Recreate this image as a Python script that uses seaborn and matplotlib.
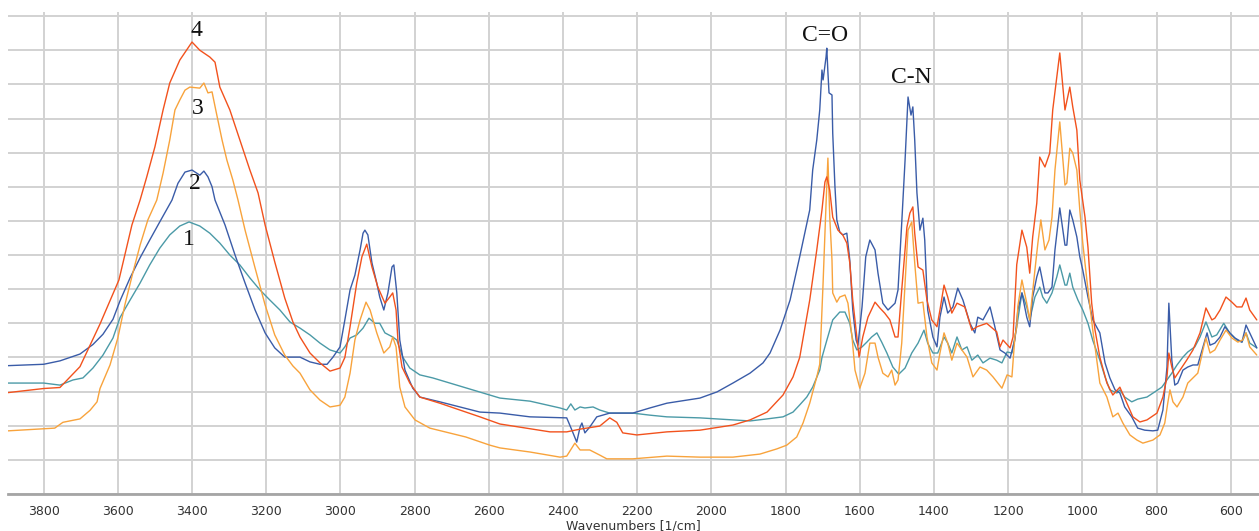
import matplotlib
matplotlib.use("Agg")
import matplotlib.pyplot as plt
from matplotlib.ticker import MultipleLocator
import numpy as np
import pandas as pd
import seaborn as sns

# ---- FTIR spectra (wavenumber in 1/cm, intensity in arbitrary units) ----
wn_1 = [3896, 3800, 3756, 3721, 3694, 3667, 3640, 3613, 3594, 3567, 3540, 3514, 3487, 3460,
        3433, 3408, 3379, 3352, 3325, 3298, 3271, 3244, 3217, 3190, 3163, 3136, 3109, 3082,
        3055, 3028, 3001, 2988, 2974, 2956, 2939, 2923, 2907, 2894, 2880, 2859, 2848, 2832,
        2813, 2786, 2751, 2705, 2659, 2616, 2570, 2489, 2408, 2390, 2379, 2368, 2354, 2341,
        2319, 2301, 2274, 2212, 2166, 2120, 2031, 1942, 1896, 1850, 1807, 1780, 1762, 1743,
        1727, 1708, 1702, 1689, 1673, 1654, 1640, 1627, 1619, 1608, 1594, 1581, 1568, 1554,
        1541, 1527, 1511, 1495, 1478, 1460, 1443, 1427, 1417, 1403, 1390, 1373, 1363, 1352,
        1338, 1325, 1311, 1298, 1282, 1268, 1249, 1231, 1217, 1203, 1190, 1177, 1163, 1150,
        1142, 1128, 1115, 1107, 1096, 1082, 1069, 1061, 1047, 1042, 1034, 1026, 1012, 999,
        985, 972, 953, 939, 926, 907, 899, 886, 867, 851, 826, 805, 786, 772, 759, 745, 729,
        716, 697, 683, 667, 651, 638, 619, 603, 584, 570, 559, 549, 530]
ab_1 = [3.25, 3.25, 3.19, 3.34, 3.40, 3.69, 4.07, 4.57, 5.17, 5.68, 6.18, 6.71, 7.20, 7.59,
        7.85, 7.97, 7.85, 7.64, 7.35, 7.00, 6.71, 6.33, 5.98, 5.68, 5.39, 5.04, 4.86, 4.66,
        4.42, 4.22, 4.13, 4.31, 4.57, 4.66, 4.86, 5.15, 5.00, 5.00, 4.72, 4.60, 4.51, 4.01,
        3.69, 3.49, 3.40, 3.25, 3.10, 2.96, 2.81, 2.72, 2.52, 2.46, 2.64, 2.46, 2.55, 2.52,
        2.55, 2.46, 2.37, 2.37, 2.31, 2.26, 2.23, 2.17, 2.14, 2.20, 2.26, 2.40, 2.61, 2.84,
        3.13, 3.63, 4.00, 4.50, 5.10, 5.33, 5.33, 5.00, 4.51, 4.22, 4.31, 4.45, 4.60, 4.72,
        4.45, 4.13, 3.72, 3.51, 3.69, 4.13, 4.42, 4.80, 4.42, 4.13, 4.13, 4.60, 4.42, 4.13,
        4.60, 4.22, 4.31, 3.92, 4.07, 3.84, 3.98, 3.92, 3.84, 4.16, 4.13, 4.90, 5.89, 5.48,
        5.10, 5.77, 6.06, 5.77, 5.59, 5.89, 6.36, 6.71, 6.12, 6.12, 6.47, 6.06, 5.68, 5.39,
        5.00, 4.50, 3.92, 3.43, 3.05, 2.96, 3.05, 2.84, 2.70, 2.78, 2.84, 2.99, 3.13, 3.34,
        3.54, 3.78, 4.01, 4.16, 4.31, 4.60, 5.04, 4.60, 4.66, 5.00, 4.72, 4.51, 4.45, 4.72,
        4.42, 4.28]

wn_2 = [3896, 3800, 3756, 3702, 3667, 3640, 3613, 3594, 3567, 3540, 3514, 3487, 3454, 3438,
        3419, 3400, 3379, 3368, 3357, 3346, 3338, 3311, 3284, 3257, 3230, 3203, 3177, 3150,
        3109, 3082, 3055, 3036, 3020, 3001, 2988, 2974, 2961, 2947, 2939, 2934, 2926, 2915,
        2902, 2894, 2883, 2872, 2861, 2856, 2848, 2840, 2826, 2805, 2786, 2732, 2678, 2624,
        2570, 2489, 2390, 2376, 2363, 2354, 2349, 2341, 2328, 2309, 2274, 2212, 2166, 2120,
        2031, 1985, 1942, 1896, 1861, 1842, 1815, 1788, 1762, 1735, 1727, 1716, 1708, 1702,
        1699, 1691, 1689, 1686, 1683, 1675, 1673, 1667, 1662, 1654, 1646, 1635, 1627, 1619,
        1610, 1605, 1594, 1584, 1573, 1559, 1551, 1538, 1524, 1505, 1497, 1487, 1478, 1473,
        1470, 1462, 1457, 1452, 1446, 1438, 1430, 1425, 1417, 1403, 1392, 1384, 1373, 1363,
        1349, 1336, 1322, 1303, 1290, 1282, 1268, 1249, 1236, 1222, 1209, 1195, 1182, 1174,
        1163, 1150, 1142, 1134, 1123, 1115, 1101, 1093, 1082, 1074, 1061, 1047, 1042, 1034,
        1026, 1015, 1007, 999, 985, 972, 953, 939, 926, 912, 899, 886, 867, 851, 832, 810,
        797, 783, 772, 767, 759, 751, 743, 729, 716, 702, 689, 675, 664, 656, 643, 629, 616,
        603, 589, 570, 559, 549, 530]
ab_2 = [3.76, 3.80, 3.90, 4.10, 4.38, 4.68, 5.12, 5.66, 6.33, 6.92, 7.44, 7.97, 8.61, 9.10,
        9.43, 9.49, 9.34, 9.46, 9.29, 9.00, 8.61, 7.88, 7.00, 6.18, 5.39, 4.72, 4.28, 4.01,
        4.01, 3.87, 3.80, 3.80, 4.01, 4.31, 5.10, 5.98, 6.41, 7.15, 7.64, 7.73, 7.59, 6.77,
        6.18, 5.77, 5.39, 5.89, 6.65, 6.71, 5.89, 4.51, 3.63, 3.10, 2.84, 2.70, 2.55, 2.40,
        2.37, 2.26, 2.23, 1.87, 1.52, 1.96, 2.08, 1.79, 1.96, 2.26, 2.37, 2.37, 2.52, 2.66,
        2.81, 2.99, 3.25, 3.54, 3.84, 4.13, 4.80, 5.68, 6.95, 8.32, 9.49, 10.37, 11.25, 12.42,
        12.13, 12.80, 13.06, 12.36, 11.75, 11.69, 10.57, 9.00, 8.03, 7.67, 7.59, 7.64, 6.85, 5.39,
        4.51, 4.36, 5.48, 6.95, 7.44, 7.15, 6.47, 5.59, 5.39, 5.59, 5.98, 7.94, 9.78, 10.95,
        11.63, 11.10, 11.34, 10.37, 8.82, 7.73, 8.08, 7.44, 5.39, 4.60, 4.31, 5.18, 5.77, 5.30,
        5.48, 6.03, 5.68, 5.00, 4.72, 5.18, 5.10, 5.48, 4.90, 4.22, 4.13, 3.98, 4.51, 5.39,
        5.89, 5.18, 4.90, 5.77, 6.36, 6.65, 5.89, 5.89, 6.06, 7.15, 8.38, 7.29, 7.29, 8.32,
        8.03, 7.53, 6.95, 6.56, 5.77, 5.10, 4.72, 3.84, 3.40, 3.05, 2.96, 2.55, 2.26, 1.93, 1.87, 1.85,
        1.87, 2.46, 3.72, 5.59, 3.92, 3.19, 3.25, 3.63, 3.72, 3.78, 3.78, 4.31, 4.72, 4.36, 4.42, 4.60, 4.90,
        4.72, 4.57, 4.45, 4.95, 4.72, 4.28]

wn_3 = [3896, 3770, 3748, 3702, 3675, 3656, 3648, 3621, 3600, 3581, 3559, 3540, 3519, 3495,
        3478, 3460, 3446, 3433, 3419, 3406, 3379, 3368, 3357, 3346, 3336, 3319, 3306, 3290,
        3276, 3257, 3230, 3203, 3177, 3150, 3128, 3109, 3082, 3055, 3028, 3001, 2988, 2974,
        2961, 2947, 2931, 2920, 2902, 2883, 2867, 2859, 2850, 2840, 2826, 2799, 2759, 2718,
        2662, 2597, 2570, 2489, 2408, 2390, 2368, 2354, 2328, 2301, 2282, 2212, 2120, 2031,
        1942, 1869, 1824, 1797, 1770, 1753, 1735, 1716, 1708, 1699, 1691, 1686, 1681, 1675,
        1673, 1662, 1654, 1640, 1632, 1621, 1613, 1600, 1586, 1573, 1559, 1551, 1538, 1524,
        1514, 1505, 1497, 1487, 1478, 1470, 1460, 1452, 1443, 1430, 1419, 1406, 1392, 1384,
        1373, 1363, 1352, 1338, 1325, 1311, 1295, 1276, 1258, 1241, 1217, 1203, 1190, 1182,
        1177, 1174, 1163, 1150, 1142, 1128, 1120, 1112, 1101, 1090, 1082, 1074, 1061, 1047,
        1042, 1034, 1026, 1015, 1007, 999, 985, 972, 953, 934, 918, 904, 891, 872, 853, 837,
        810, 791, 778, 770, 764, 756, 745, 729, 716, 702, 689, 675, 667, 656, 643, 629, 613,
        597, 581, 568, 559, 549, 530]
ab_3 = [1.85, 1.93, 2.10, 2.20, 2.45, 2.70, 3.09, 3.78, 4.57, 5.54, 6.50, 7.29, 8.03, 8.61,
        9.40, 10.37, 11.25, 11.54, 11.83, 11.92, 11.89, 12.04, 11.75, 11.78, 11.25, 10.37, 9.78, 9.20,
        8.61, 7.73, 6.62, 5.54, 4.66, 4.07, 3.75, 3.54, 3.05, 2.75, 2.55, 2.60, 2.84, 3.54,
        4.51, 5.10, 5.62, 5.39, 4.72, 4.13, 4.31, 4.60, 4.31, 3.13, 2.55, 2.17, 1.93, 1.82,
        1.67, 1.43, 1.35, 1.23, 1.08, 1.11, 1.49, 1.29, 1.29, 1.14, 1.03, 1.03, 1.11, 1.08,
        1.08, 1.17, 1.32, 1.43, 1.67, 2.08, 2.66, 3.43, 3.80, 6.18, 8.50, 9.84, 8.11, 6.85,
        5.89, 5.62, 5.77, 5.83, 5.59, 4.60, 3.63, 3.10, 3.54, 4.42, 4.42, 4.01, 3.54, 3.43,
        3.63, 3.19, 3.34, 4.42, 6.18, 7.73, 7.97, 6.77, 5.59, 5.62, 4.60, 3.84, 3.63, 4.13,
        4.72, 4.42, 3.92, 4.42, 4.22, 4.01, 3.43, 3.72, 3.63, 3.43, 3.10, 3.49, 3.43, 4.60,
        4.90, 5.50, 6.27, 5.59, 5.10, 6.56, 7.35, 8.03, 7.15, 7.44, 8.11, 9.49, 10.90, 9.05,
        9.11, 10.13, 9.99, 9.49, 8.32, 7.35, 5.98, 4.80, 3.25, 2.84, 2.26, 2.37, 2.08, 1.73, 1.58, 1.49,
        1.58, 1.73, 2.08, 2.66, 3.05, 2.70, 2.55, 2.84, 3.25, 3.40, 3.54, 4.22, 4.57, 4.13, 4.22, 4.51, 4.80,
        4.57, 4.45, 4.51, 4.72, 4.31, 4.07]

wn_4 = [3896, 3800, 3756, 3702, 3648, 3597, 3581, 3562, 3540, 3522, 3500, 3478, 3460, 3433,
        3400, 3379, 3352, 3338, 3325, 3298, 3271, 3244, 3222, 3203, 3177, 3150, 3128, 3109,
        3082, 3055, 3028, 3001, 2988, 2974, 2956, 2942, 2929, 2915, 2899, 2880, 2867, 2859,
        2850, 2845, 2834, 2813, 2786, 2732, 2678, 2624, 2570, 2435, 2390, 2354, 2301, 2274,
        2255, 2239, 2201, 2120, 2031, 1942, 1896, 1850, 1807, 1780, 1762, 1735, 1716, 1702,
        1694, 1689, 1681, 1673, 1659, 1646, 1635, 1627, 1619, 1608, 1602, 1592, 1578, 1559,
        1546, 1533, 1519, 1505, 1497, 1487, 1473, 1465, 1457, 1452, 1443, 1430, 1419, 1406,
        1392, 1384, 1373, 1363, 1352, 1338, 1317, 1298, 1284, 1258, 1231, 1222, 1214, 1195,
        1187, 1177, 1163, 1150, 1142, 1134, 1123, 1115, 1101, 1088, 1080, 1069, 1061, 1047,
        1034, 1026, 1015, 1007, 993, 985, 975, 966, 953, 934, 918, 899, 880, 864, 845, 826,
        799, 783, 772, 767, 759, 751, 737, 719, 702, 683, 667, 651, 643, 629, 613, 597, 584,
        570, 559, 549, 530]
ab_4 = [2.97, 3.09, 3.12, 3.73, 4.98, 6.27, 7.00, 7.88, 8.61, 9.29, 10.17, 11.25, 12.04, 12.71,
        13.24, 13.00, 12.80, 12.65, 11.92, 11.25, 10.37, 9.49, 8.82, 7.88, 6.80, 5.74, 5.04, 4.60,
        4.13, 3.84, 3.60, 3.69, 4.00, 4.90, 6.18, 6.95, 7.32, 6.65, 6.06, 5.59, 5.77, 5.89,
        5.39, 4.51, 3.72, 3.25, 2.84, 2.66, 2.46, 2.26, 2.05, 1.82, 1.82, 1.90, 1.99, 2.23,
        2.10, 1.79, 1.73, 1.82, 1.87, 2.02, 2.17, 2.40, 2.90, 3.43, 4.00, 5.68, 7.15, 8.32,
        9.14, 9.29, 8.90, 8.11, 7.73, 7.59, 7.35, 6.77, 5.68, 4.60, 4.01, 4.60, 5.18, 5.62,
        5.45, 5.30, 5.10, 4.60, 4.60, 5.98, 7.82, 8.23, 8.41, 7.64, 6.65, 6.56, 5.68, 5.10,
        4.90, 5.39, 6.12, 5.77, 5.30, 5.59, 5.48, 4.80, 4.90, 5.00, 4.75, 4.31, 4.51, 4.28,
        4.60, 6.72, 7.73, 7.23, 6.47, 7.53, 8.52, 9.87, 9.58, 9.99, 11.25, 12.21, 12.92, 11.25,
        11.92, 11.34, 10.66, 9.20, 8.11, 7.23, 5.59, 4.80, 4.01, 3.25, 2.90, 3.13, 2.66, 2.26, 2.11, 2.17,
        2.37, 2.84, 3.43, 4.13, 3.72, 3.40, 3.63, 3.92, 4.22, 4.72, 5.45, 5.10, 5.15, 5.39, 5.77, 5.62, 5.48,
        5.48, 5.74, 5.39, 5.10]

samples = ["1", "2", "3", "4"]
colors = ["#4b9aa7", "#3a5ca8", "#f8a33c", "#f2521d"]

frames = []
for name, wn, ab in zip(samples, [wn_1, wn_2, wn_3, wn_4], [ab_1, ab_2, ab_3, ab_4]):
    frames.append(pd.DataFrame({"wn": wn, "ab": ab, "sample": name,
                                "idx": np.arange(len(wn))}))
df = pd.concat(frames, ignore_index=True)

sns.set_style("white")
plt.rcParams["font.family"] = ["DejaVu Sans"]

fig = plt.figure(figsize=(12.59, 5.31), dpi=100)
ax = fig.add_axes([8 / 1259, 37 / 531, 1251 / 1259, 482 / 531])

sns.lineplot(data=df, x="wn", y="ab", hue="sample", units="idx" if False else None,
             palette=dict(zip(samples, colors)), sort=False, estimator=None,
             legend=False, linewidth=1.0, ax=ax)

ax.set_xlim(3896, 524)
ax.set_ylim(0, 14.12)

ax.xaxis.set_major_locator(MultipleLocator(200))
ax.xaxis.set_minor_locator(MultipleLocator(50))
ax.yaxis.set_major_locator(MultipleLocator(1))
ax.grid(True, which="major", color="#d2d2d2", linewidth=1.4)
ax.set_axisbelow(True)

for side in ["left", "right", "top"]:
    ax.spines[side].set_visible(False)
ax.spines["bottom"].set_color("#a5a5a5")
ax.spines["bottom"].set_linewidth(2.0)

ax.tick_params(axis="x", which="both", direction="out", colors="#a5a5a5",
               labelcolor="#333333", labelsize=9)
ax.tick_params(axis="x", which="major", length=4, width=1, pad=4)
ax.tick_params(axis="x", which="minor", length=3, width=1)
ax.tick_params(axis="y", which="both", left=False, labelleft=False)

ax.set_xlabel("Wavenumbers [1/cm]", fontsize=9, color="#333333", labelpad=1)
ax.set_ylabel("")

# sample numbers and band assignments
serif = ["Liberation Serif", "DejaVu Serif"]
labels = [("4", 3387, 13.59), ("3", 3384, 11.28), ("2", 3392, 9.11), ("1", 3408, 7.47),
          ("C=O", 1694, 13.44), ("C-N", 1460, 12.19)]
for txt, x, y in labels:
    ax.text(x, y, txt, ha="center", va="center", fontsize=17, family=serif, color="#111111")

fig.savefig("out.png", dpi=100)
